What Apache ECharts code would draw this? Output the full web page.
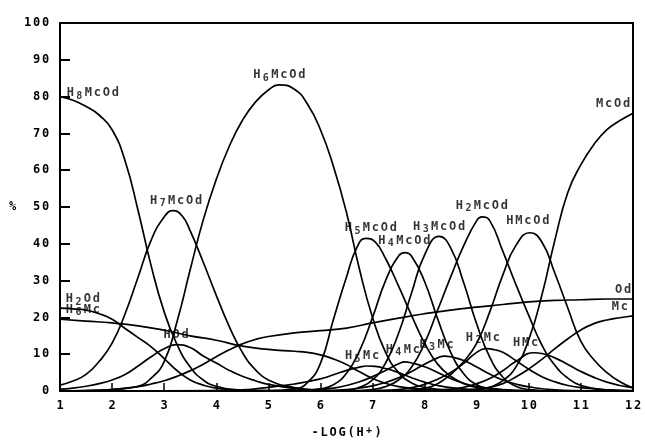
<!DOCTYPE html>
<html><head><meta charset="utf-8">
<script src="https://cdn.jsdelivr.net/npm/echarts@6/dist/echarts.min.js"></script>
<style>html,body{margin:0;padding:0;background:#fff}#c{width:645px;height:444px}</style>
</head><body><div id="c"></div><script>
// each species: [ -LOG(H+), % ] points
const H8McOd = [[1,80],[1.25,79],[1.5,77.3],[1.75,75],[2,71],[2.25,62.5],[2.5,49],[2.75,34],[3,21.5],[3.25,12.5],[3.5,6.5],[3.75,3],[4,1.3],[4.5,0.2],[5,0],[12,0]];
const H7McOd = [[1,1.6],[1.25,2.7],[1.5,4.5],[1.75,8],[2,13],[2.25,21],[2.5,31],[2.75,41],[3,47.3],[3.17,49],[3.35,47.5],[3.5,43.5],[3.75,35],[4,26],[4.25,17.5],[4.5,10.5],[4.75,5.8],[5,3],[5.5,0.9],[6,0.2],[6.5,0],[12,0]];
const H6McOd = [[1,0],[1.5,0.1],[2,0.4],[2.5,1.3],[2.75,3.5],[3,8],[3.25,19],[3.5,33],[3.75,46.5],[4,57.5],[4.25,66.5],[4.5,73.5],[4.75,78.5],[5,81.8],[5.2,83.2],[5.5,82],[5.75,78],[6,71],[6.25,61],[6.5,48.5],[6.75,33],[7,20],[7.25,10.5],[7.5,5],[7.75,2.2],[8,1],[8.5,0.2],[9,0],[12,0]];
const H5McOd = [[1,0],[5,0],[5.5,0.5],[5.75,2.3],[6,7.5],[6.25,19.5],[6.5,31],[6.7,39],[6.87,41.5],[7.05,40.5],[7.25,36],[7.5,28.5],[7.75,20.5],[8,13],[8.25,7.3],[8.5,4],[8.75,2],[9,1],[9.5,0.2],[10,0],[12,0]];
const H4McOd = [[1,0],[5.5,0.1],[6,0.6],[6.25,1.7],[6.5,4.8],[6.75,10.9],[7,20],[7.25,30],[7.5,36.7],[7.62,37.6],[7.75,36.6],[8,29.7],[8.25,19.6],[8.5,10.5],[8.75,4.7],[9,1.7],[9.25,0.6],[9.5,0.2],[10,0],[12,0]];
const H3McOd = [[1,0],[6.5,0.2],[6.75,1],[7,3],[7.25,7.6],[7.5,15.7],[7.75,26.7],[8,37],[8.28,42],[8.5,38.9],[8.75,29.4],[9,18.2],[9.25,9.2],[9.5,3.8],[9.75,1.3],[10,0.4],[10.5,0],[12,0]];
const H2McOd = [[1,0],[6.5,0],[7,0.4],[7.25,1.2],[7.5,3],[7.75,6.5],[8,13],[8.25,22],[8.5,31],[8.75,39.5],[9,46.3],[9.1,47.3],[9.25,46.3],[9.5,38],[9.75,29],[10,20.5],[10.25,12.5],[10.5,7],[10.75,3.5],[11,1.5],[11.5,0.3],[12,0]];
const HMcOd  = [[1,0],[7,0],[7.5,0.1],[8,0.7],[8.25,2],[8.5,4.5],[8.75,8],[9,13],[9.25,21.5],[9.5,31.5],[9.75,39.5],[10.02,43],[10.25,40.5],[10.5,32],[10.75,22.5],[11,13.5],[11.25,8.5],[11.5,5],[11.75,2.5],[12,0.8]];
const McOd   = [[1,0],[8,0],[8.5,0.1],[9,0.4],[9.25,1],[9.5,2.8],[9.75,6.5],[10,14],[10.25,26],[10.5,41],[10.75,54],[11,61.5],[11.25,67],[11.5,71],[11.75,73.5],[12,75.5]];
const H2Od   = [[1,22.5],[1.25,22.3],[1.5,22],[1.75,21],[2,19.5],[2.25,17],[2.5,14.5],[2.75,12],[3,8.8],[3.25,5.5],[3.5,3],[3.75,1.6],[4,0.8],[4.5,0.2],[5,0],[12,0]];
const HOd    = [[1,0.5],[1.25,0.8],[1.5,1.3],[1.75,2],[2,3],[2.25,4.5],[2.5,6.8],[2.75,9.3],[3,11.5],[3.25,12.6],[3.5,11.8],[3.75,9.5],[4,7.6],[4.25,5.6],[4.5,4],[4.75,2.8],[5,1.8],[5.5,0.7],[6,0.2],[6.5,0],[12,0]];
const Od     = [[1,0],[1.5,0.1],[2,0.4],[2.5,1.2],[2.75,1.9],[3,2.8],[3.25,4],[3.5,5.5],[3.75,7.3],[4,9.3],[4.25,11.2],[4.5,12.8],[4.75,14],[5,14.8],[5.5,15.8],[6,16.4],[6.5,17.1],[7,18.5],[7.5,19.8],[8,21],[8.5,22],[9,22.8],[9.5,23.5],[10,24.2],[10.5,24.6],[11,24.8],[11.5,25],[12,25]];
const H6Mc   = [[1,19.5],[1.5,19],[2,18.5],[2.5,17.7],[3,16.5],[3.5,15],[4,13.8],[4.5,12.2],[5,11.3],[5.5,10.8],[5.75,10.5],[6,9.8],[6.25,8.7],[6.5,7.2],[6.75,5.2],[7,3.4],[7.25,2.1],[7.5,1.2],[8,0.4],[8.5,0.1],[9,0],[12,0]];
const H5Mc   = [[1,0],[3.5,0],[4,0.1],[4.5,0.3],[5,1],[5.5,1.9],[6,3.3],[6.25,4.4],[6.5,5.6],[6.75,6.5],[6.9,6.8],[7.05,6.7],[7.25,6.1],[7.5,5],[7.75,3.6],[8,2.4],[8.25,1.5],[8.5,0.9],[9,0.3],[9.5,0],[12,0]];
const H4Mc   = [[1,0],[5,0],[5.5,0.1],[6,0.4],[6.25,0.8],[6.5,1.5],[6.75,2.5],[7,3.9],[7.25,5.6],[7.5,7.4],[7.62,7.9],[7.75,7.6],[8,6.6],[8.25,5],[8.5,3.4],[8.75,2.1],[9,1.2],[9.5,0.4],[10,0.1],[10.5,0],[12,0]];
const H3Mc   = [[1,0],[6,0],[6.5,0.4],[6.75,0.8],[7,1.4],[7.25,2.3],[7.5,3.6],[7.75,5.3],[8,7.3],[8.25,9],[8.38,9.5],[8.5,9.3],[8.75,8.3],[9,6.5],[9.25,4.6],[9.5,3],[9.75,1.9],[10,1.1],[10.5,0.3],[11,0.1],[11.5,0],[12,0]];
const H2Mc   = [[1,0],[6.5,0],[7,0.1],[7.5,0.4],[7.75,0.9],[8,1.8],[8.25,3.2],[8.5,5],[8.75,7.5],[9,10.5],[9.18,11.5],[9.35,11.2],[9.5,10.5],[9.75,8.3],[10,5.9],[10.25,3.9],[10.5,2.5],[10.75,1.5],[11,0.9],[11.5,0.3],[12,0.1]];
const HMc    = [[1,0],[7.5,0],[8,0.1],[8.5,0.5],[8.75,1],[9,2],[9.25,3.4],[9.5,5.5],[9.75,8],[10.1,10.4],[10.25,10.2],[10.5,9],[10.75,7.2],[11,5.3],[11.25,3.7],[11.5,2.4],[11.75,1.5],[12,0.9]];
const Mc     = [[1,0],[8,0],[8.5,0.1],[9,0.5],[9.25,1],[9.5,2],[9.75,3.8],[10,6],[10.25,8.6],[10.5,11.5],[10.75,14.2],[11,16.6],[11.25,18.3],[11.5,19.3],[11.75,19.9],[12,20.4]];

const seriesNames = ['H8McOd','H7McOd','H6McOd','H5McOd','H4McOd','H3McOd','H2McOd','HMcOd','McOd','H2Od','HOd','Od','H6Mc','H5Mc','H4Mc','H3Mc','H2Mc','HMc','Mc'];
const seriesValues = [H8McOd,H7McOd,H6McOd,H5McOd,H4McOd,H3McOd,H2McOd,HMcOd,McOd,H2Od,HOd,Od,H6Mc,H5Mc,H4Mc,H3Mc,H2Mc,HMc,Mc];

// curve labels (text and data-space anchor)
const labelText = ['H₈McOd','H₇McOd','H₆McOd','H₅McOd','H₄McOd','H₃McOd','H₂McOd','HMcOd','McOd','H₂Od','H₆Mc','HOd','Od','Mc','H₅Mc','H₄Mc','H₃Mc','H₂Mc','HMc'];
const labelX = [1.63,3.23,5.21,6.97,7.61,8.28,9.1,9.98,11.62,1.44,1.44,3.23,11.81,11.75,6.8,7.58,8.23,9.12,9.94];
const labelY = [81,51.8,85.8,44.2,40.8,44.7,50.3,46.3,77.9,25,22.1,15.3,27.4,22.9,9.5,11.3,12.6,14.5,13.2];

const xAxisName = '-LOG(H⁺)';
const yAxisName = '%';

const SUB = '₀₁₂₃₄₅₆₇₈₉';
function wide(s){
  return Array.from(String(s)).map(c => {
    const k = SUB.indexOf(c);
    if (k >= 0) return '{s|' + k + '}';
    if (c === '⁺') return '{p|+}';
    return '{n|' + c + '}';
  }).join('');
}
const FONT = 'DejaVu Sans Mono';
const rich = {
  n: { fontFamily: FONT, fontWeight: 'bold', fontSize: 12, width: 9, align: 'center', lineHeight: 16, color: '#000' },
  s: { fontFamily: FONT, fontWeight: 'bold', fontSize: 10, width: 9, align: 'center', lineHeight: 8, verticalAlign: 'bottom', color: '#000' },
  p: { fontFamily: FONT, fontWeight: 'bold', fontSize: 10, width: 9, align: 'center', lineHeight: 8, verticalAlign: 'top', color: '#000' }
};

const series = seriesNames.map((name, k) => ({
  name, type: 'line', smooth: 0.5, symbol: 'none', silent: true,
  lineStyle: { color: '#000', width: 1.7 },
  data: seriesValues[k]
}));
series.push({
  type: 'scatter', symbolSize: 0, silent: true, z: 5,
  data: labelText.map((t, i) => ({ value: [labelX[i], labelY[i]], name: t })),
  label: { show: true, position: 'inside', formatter: p => wide(p.name), rich }
});

const chart = echarts.init(document.getElementById('c'), null, { renderer: 'canvas' });
chart.setOption({
  animation: false,
  backgroundColor: '#fff',
  grid: { left: 60, right: 8, top: 23, bottom: 41, show: true, borderColor: '#000', borderWidth: 2 },
  xAxis: {
    type: 'value', min: 1, max: 12, interval: 1,
    name: wide(xAxisName), nameLocation: 'middle', nameGap: 34,
    nameTextStyle: { rich },
    axisLine: { lineStyle: { color: '#000', width: 2 } },
    axisTick: { inside: true, length: 8, lineStyle: { color: '#000', width: 1.5 } },
    axisLabel: { margin: 7, formatter: v => wide(v), rich },
    splitLine: { show: false }
  },
  yAxis: {
    type: 'value', min: 0, max: 100, interval: 10,
    name: wide(yAxisName), nameLocation: 'middle', nameRotate: 0, nameGap: 42,
    nameTextStyle: { rich },
    axisLine: { show: true, lineStyle: { color: '#000', width: 2 } },
    axisTick: { show: true, inside: true, length: 10, lineStyle: { color: '#000', width: 2 } },
    axisLabel: { margin: 10, formatter: v => wide(v), rich },
    splitLine: { show: false }
  },
  series
});
</script></body></html>
